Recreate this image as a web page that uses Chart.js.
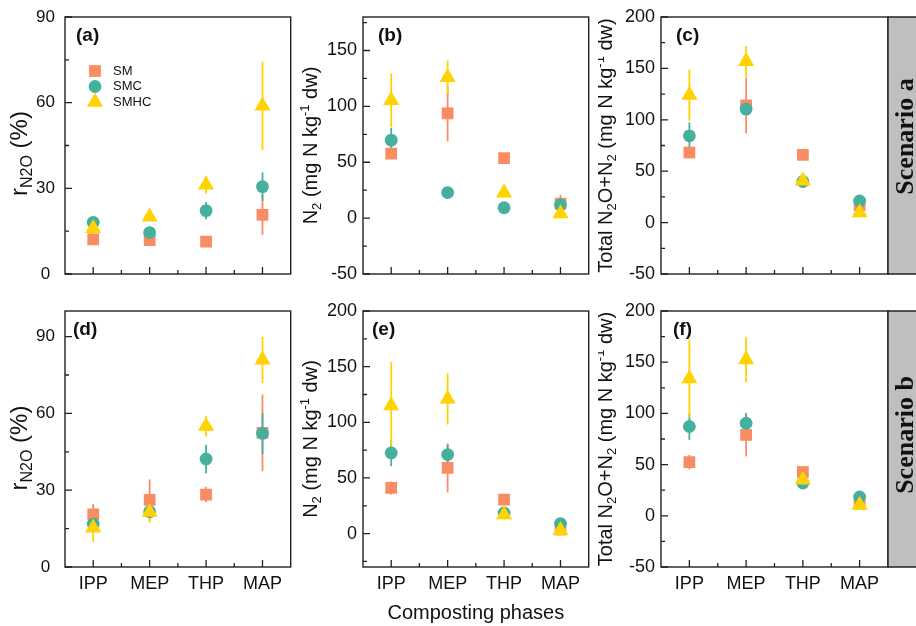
<!DOCTYPE html>
<html>
<head>
<meta charset="utf-8">
<script src="https://cdn.jsdelivr.net/npm/chart.js@4.4.1/dist/chart.umd.min.js"></script>
<style>
  html, body { margin: 0; padding: 0; background: #fff; }
  #wrap { position: relative; width: 916px; height: 626px; overflow: hidden; }
  #wrap canvas { position: absolute; }
</style>
</head>
<body>
<div id="wrap">
  <canvas id="pa"></canvas><canvas id="pb"></canvas><canvas id="pc"></canvas>
  <canvas id="pd"></canvas><canvas id="pe"></canvas><canvas id="pf"></canvas>
</div>
<script>
const FONT = '"Liberation Sans", Arial, sans-serif';
const SERIF = '"Liberation Serif", "Times New Roman", serif';

const phases = ['IPP', 'MEP', 'THP', 'MAP'];
const groups = ['SM', 'SMC', 'SMHC'];
const colors = ['#FA8C64', '#45B09E', '#FFD200'];
const shapes = ['rect', 'circle', 'triangle'];
const sizes = [8.3, 6.4, 9.3];

// (a) r_N2O, scenario a
const a_SM = [12.1, 11.9, 11.3, 20.7];
const a_SM_err = [1.5, 1.5, 1, 7];
const a_SMC = [18.1, 14.5, 22.2, 30.6];
const a_SMC_err = [1.5, 1.5, 3, 5];
const a_SMHC = [16, 20, 31.2, 58.9];
const a_SMHC_err = [2, 1, 3, 15.5];

// (b) N2, scenario a
const b_SM = [57.8, 93.7, 53.6, 12.9];
const b_SM_err = [3, 25, 2, 8];
const b_SMC = [69.8, 22.9, 9.3, 12];
const b_SMC_err = [11, 2, 2, 2];
const b_SMHC = [105.5, 126, 22.7, 4];
const b_SMHC_err = [24, 15, 2, 2];

// (c) total N2O+N2, scenario a
const c_SM = [68.2, 114, 65.9, 17];
const c_SM_err = [3, 27, 2, 3];
const c_SMC = [84.4, 110.4, 40, 21];
const c_SMC_err = [13, 3, 3, 2];
const c_SMHC = [124, 156.8, 40.6, 9.7];
const c_SMHC_err = [25, 15, 3, 2];

// (d) r_N2O, scenario b
const d_SM = [20.6, 26.2, 28.3, 52.4];
const d_SM_err = [4, 8, 3, 15];
const d_SMC = [16.8, 21.6, 42.2, 52.2];
const d_SMC_err = [3, 2, 5.6, 8];
const d_SMHC = [15.3, 21.4, 55, 80.9];
const d_SMHC_err = [5.5, 4, 4, 9];

// (e) N2, scenario b
const e_SM = [41, 59, 30.5, 3.6];
const e_SM_err = [6, 22, 3, 2];
const e_SMC = [72.5, 71, 18.6, 9];
const e_SMC_err = [12, 9, 2, 2];
const e_SMHC = [115, 121, 17, 3];
const e_SMHC_err = [39, 23, 2, 2];

// (f) total N2O+N2, scenario b
const f_SM = [52.4, 79, 42.8, 12];
const f_SM_err = [7, 21, 5, 3];
const f_SMC = [87.2, 90.4, 32, 18.4];
const f_SMC_err = [13, 10, 2, 2];
const f_SMHC = [134, 152.5, 35, 10.5];
const f_SMHC_err = [38, 22, 3, 2];

// axis ticks
const ratioTicks = [0, 30, 60, 90];
const ratioMinor = [15, 45, 75];
const n2Ticks = [-50, 0, 50, 100, 150];
const n2TicksB = [0, 50, 100, 150, 200];
const totalTicks = [-50, 0, 50, 100, 150, 200];
const minor25 = [-25, 25, 75, 125, 175];

// axis titles: [text, 0 normal / -1 sub / 1 sup]
const titleRatio = [['r', 0], ['N2O', -1], [' (%)', 0]];
const titleN2 = [['N', 0], ['2', -1], [' (mg N kg', 0], ['-1', 1], [' dw)', 0]];
const titleTotal = [['Total N', 0], ['2', -1], ['O+N', 0], ['2', -1], [' (mg N kg', 0], ['-1', 1], [' dw)', 0]];

// column 1 (ratio) uses centred tick labels, the others right aligned
const col1Ticks = { size: 17, padding: 10, align: 'center' };
const colTicks = { size: 18, padding: 6, align: 'near' };

const panels = [
  { id: 'pa', x: 0, y: 0, w: 300, h: 300, padR: 7, padT: 17, yw: 65, xh: 26, min: 0, max: 90, tk: col1Ticks,
    major: ratioTicks, minor: ratioMinor, title: titleRatio, titleX: 27, titleDy: 8, titleSize: 24, tag: '(a)', tagDx: 11,
    vals: [a_SM, a_SMC, a_SMHC], errs: [a_SM_err, a_SMC_err, a_SMHC_err], legend: true },
  { id: 'pb', x: 300, y: 0, w: 298, h: 300, padR: 9, padT: 17, yw: 63, xh: 26, min: -50, max: 180, tk: colTicks,
    major: n2Ticks, minor: minor25, title: titleN2, titleX: 17, titleDy: 0, titleSize: 20, tag: '(b)', tagDx: 15,
    vals: [b_SM, b_SMC, b_SMHC], errs: [b_SM_err, b_SMC_err, b_SMHC_err] },
  { id: 'pc', x: 598, y: 0, w: 318, h: 300, padR: 28, padT: 17, yw: 63, xh: 26, min: -50, max: 200, tk: colTicks,
    major: totalTicks, minor: minor25, title: titleTotal, titleX: 14, titleDy: 0, titleSize: 20, tag: '(c)', tagDx: 15,
    vals: [c_SM, c_SMC, c_SMHC], errs: [c_SM_err, c_SMC_err, c_SMHC_err], scenario: 'Scenario a', scenarioDy: -9 },
  { id: 'pd', x: 0, y: 300, w: 300, h: 326, padR: 7, padT: 11, yw: 65, xh: 59, min: 0, max: 100, tk: col1Ticks,
    major: ratioTicks, minor: ratioMinor, title: titleRatio, titleX: 27, titleDy: 9, titleSize: 24, tag: '(d)', tagDx: 8,
    vals: [d_SM, d_SMC, d_SMHC], errs: [d_SM_err, d_SMC_err, d_SMHC_err], bottom: true },
  { id: 'pe', x: 300, y: 300, w: 298, h: 326, padR: 9, padT: 11, yw: 63, xh: 59, min: -30, max: 200, tk: colTicks,
    major: n2TicksB, minor: minor25, title: titleN2, titleX: 17, titleDy: 0, titleSize: 20, tag: '(e)', tagDx: 9,
    vals: [e_SM, e_SMC, e_SMHC], errs: [e_SM_err, e_SMC_err, e_SMHC_err], bottom: true, xTitle: true },
  { id: 'pf', x: 598, y: 300, w: 318, h: 326, padR: 28, padT: 11, yw: 63, xh: 59, min: -50, max: 200, tk: colTicks,
    major: totalTicks, minor: minor25, title: titleTotal, titleX: 14, titleDy: 0, titleSize: 20, tag: '(f)', tagDx: 12,
    vals: [f_SM, f_SMC, f_SMHC], errs: [f_SM_err, f_SMC_err, f_SMHC_err], bottom: true, scenario: 'Scenario b', scenarioDy: -4 }
];

function drawRich(ctx, segs, x, y, size) {
  ctx.save();
  ctx.translate(x, y);
  ctx.rotate(-Math.PI / 2);
  ctx.textBaseline = 'alphabetic';
  ctx.textAlign = 'left';
  ctx.fillStyle = '#111';
  const fonts = segs.map(s => (s[1] ? Math.round(size * 0.65) : size) + 'px ' + FONT);
  let total = 0;
  const widths = segs.map((s, i) => {
    ctx.font = fonts[i];
    const w = ctx.measureText(s[0]).width;
    total += w;
    return w;
  });
  let cx = -total / 2;
  segs.forEach((s, i) => {
    ctx.font = fonts[i];
    const dy = s[1] === -1 ? size * 0.22 : s[1] === 1 ? -size * 0.38 : 0;
    ctx.fillText(s[0], cx, dy);
    cx += widths[i];
  });
  ctx.restore();
}

function noPad(s) {
  s.paddingTop = 0; s.paddingBottom = 0; s.paddingLeft = 0; s.paddingRight = 0;
}

function panelPlugin(p) {
  return {
    id: 'panel_' + p.id,
    beforeDatasetsDraw(chart) {
      // error bars
      const { ctx } = chart;
      const ys = chart.scales.y;
      chart.data.datasets.forEach((ds, i) => {
        const meta = chart.getDatasetMeta(i);
        ctx.save();
        ctx.strokeStyle = ds.backgroundColor;
        ctx.lineWidth = 1.8;
        meta.data.forEach((pt, j) => {
          const v = ds.data[j].y, e = ds.err[j];
          ctx.beginPath();
          ctx.moveTo(pt.x, ys.getPixelForValue(v - e));
          ctx.lineTo(pt.x, ys.getPixelForValue(v + e));
          ctx.stroke();
        });
        ctx.restore();
      });
    },
    afterDatasetsDraw(chart) {
      const { ctx, chartArea: a } = chart;
      const xs = chart.scales.x, ys = chart.scales.y;
      ctx.save();
      ctx.strokeStyle = '#222';
      ctx.lineWidth = 1.4;
      ctx.strokeRect(a.left, a.top, a.right - a.left, a.bottom - a.top);
      ctx.lineWidth = 1.3;
      ctx.beginPath();
      p.major.forEach(v => { const y = ys.getPixelForValue(v); ctx.moveTo(a.left, y); ctx.lineTo(a.left + 7, y); });
      p.minor.forEach(v => {
        if (v <= p.min || v >= p.max) return;
        const y = ys.getPixelForValue(v); ctx.moveTo(a.left, y); ctx.lineTo(a.left + 4, y);
      });
      phases.forEach((_, j) => { const x = xs.getPixelForValue(j + 1); ctx.moveTo(x, a.bottom); ctx.lineTo(x, a.bottom - 7); });
      [1.5, 2.5, 3.5].forEach(v => { const x = xs.getPixelForValue(v); ctx.moveTo(x, a.bottom); ctx.lineTo(x, a.bottom - 4); });
      ctx.stroke();
      ctx.restore();
    },
    afterDraw(chart) {
      const { ctx, chartArea: a } = chart;
      drawRich(ctx, p.title, p.titleX, (a.top + a.bottom) / 2 + p.titleDy, p.titleSize);

      ctx.save();
      ctx.fillStyle = '#111';
      ctx.font = 'bold 19px ' + FONT;
      ctx.textBaseline = 'top';
      ctx.fillText(p.tag, a.left + p.tagDx, a.top + 9);

      if (p.legend) {
        chart.data.datasets.forEach((ds, i) => {
          const y = a.top + 54 + i * 15.5;
          ctx.fillStyle = ds.backgroundColor;
          Chart.helpers.drawPoint(ctx, { pointStyle: ds.pointStyle, radius: ds.pointRadius, rotation: 0, borderWidth: 0 }, a.left + 30, y);
          ctx.fillStyle = '#111';
          ctx.font = '13px ' + FONT;
          ctx.textBaseline = 'middle';
          ctx.fillText(ds.label, a.left + 48, y);
        });
      }

      if (p.scenario) {
        ctx.fillStyle = '#bfbfbf';
        ctx.fillRect(a.right, a.top, chart.width - a.right, a.bottom - a.top);
        ctx.strokeStyle = '#222';
        ctx.lineWidth = 1.4;
        ctx.beginPath();
        ctx.moveTo(chart.width, a.top); ctx.lineTo(a.right, a.top); ctx.lineTo(a.right, a.bottom); ctx.lineTo(chart.width, a.bottom);
        ctx.stroke();
        ctx.translate(chart.width - 3, (a.top + a.bottom) / 2 + p.scenarioDy);
        ctx.rotate(-Math.PI / 2);
        ctx.fillStyle = '#111';
        ctx.font = 'bold 26px ' + SERIF;
        ctx.textAlign = 'center';
        ctx.textBaseline = 'alphabetic';
        ctx.fillText(p.scenario, 0, 0);
      }
      ctx.restore();
    }
  };
}

function makeChart(p) {
  const canvas = document.getElementById(p.id);
  canvas.width = p.w;
  canvas.height = p.h;
  canvas.style.left = p.x + 'px';
  canvas.style.top = p.y + 'px';
  return new Chart(canvas, {
    type: 'scatter',
    data: {
      datasets: groups.map((g, i) => ({
        label: g,
        data: p.vals[i].map((v, j) => ({ x: j + 1, y: v })),
        err: p.errs[i],
        backgroundColor: colors[i],
        borderWidth: 0,
        pointStyle: shapes[i],
        pointRadius: sizes[i],
        pointHoverRadius: sizes[i],
        order: 3 - i
      }))
    },
    options: {
      responsive: false,
      animation: false,
      devicePixelRatio: 1,
      events: [],
      layout: { padding: { left: 0, right: p.padR, top: p.padT, bottom: 0 } },
      plugins: { legend: { display: false }, tooltip: { enabled: false } },
      scales: {
        x: {
          type: 'linear', min: 0.5, max: 4.5,
          grid: { display: false, drawTicks: false },
          border: { display: false },
          afterBuildTicks: s => { s.ticks = phases.map((_, j) => ({ value: j + 1 })); },
          afterFit: s => { s.height = p.xh; noPad(s); },
          ticks: {
            display: !!p.bottom, padding: 6, autoSkip: false, maxRotation: 0,
            font: { family: FONT, size: 18 }, color: '#111',
            callback: v => phases[v - 1]
          },
          title: {
            display: !!p.xTitle, text: 'Composting phases',
            font: { family: FONT, size: 20 }, color: '#111',
            padding: { top: 0, bottom: 1 }
          }
        },
        y: {
          min: p.min, max: p.max,
          grid: { display: false, drawTicks: false },
          border: { display: false },
          afterBuildTicks: s => { s.ticks = p.major.map(v => ({ value: v })); },
          afterFit: s => { s.width = p.yw; noPad(s); },
          ticks: {
            padding: p.tk.padding, crossAlign: p.tk.align,
            font: { family: FONT, size: p.tk.size }, color: '#111'
          }
        }
      }
    },
    plugins: [panelPlugin(p)]
  });
}

panels.forEach(makeChart);
</script>
</body>
</html>
